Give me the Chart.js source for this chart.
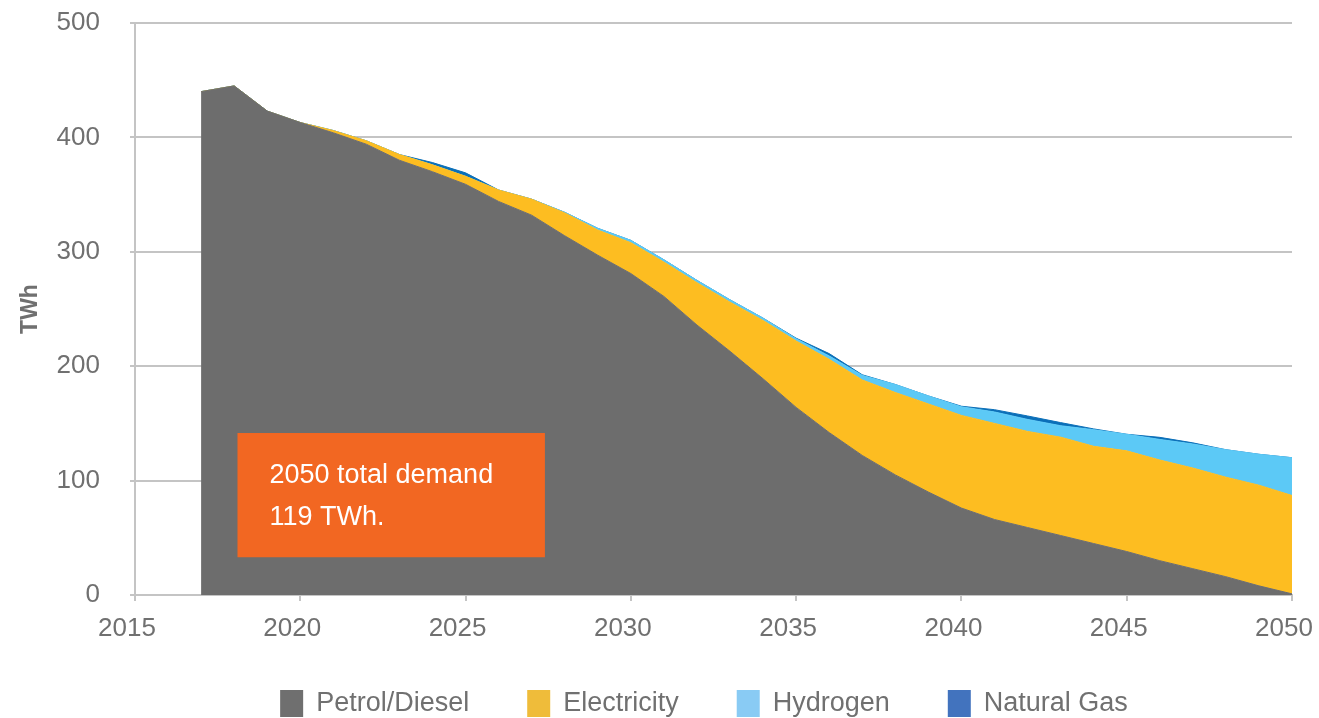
<!DOCTYPE html>
<html>
<head>
<meta charset="utf-8">
<script src="https://cdn.jsdelivr.net/npm/chart.js@4/dist/chart.umd.min.js"></script>
<style>
html,body{margin:0;padding:0;background:#ffffff;}
#wrap{width:1319px;height:718px;position:relative;}
</style>
</head>
<body>
<div id="wrap"><canvas id="c" width="1319" height="718"></canvas></div>
<script>
// ---- data ----
const years = [2017,2018,2019,2020,2021,2022,2023,2024,2025,2026,2027,2028,2029,2030,2031,2032,2033,2034,2035,2036,2037,2038,2039,2040,2041,2042,2043,2044,2045,2046,2047,2048,2049,2050];
const petrolDiesel = [440,445,423,413,404,394,380,370,359,344,332,314,297,281,261,236,213,189,164,142,122,105,90,76,66,59,52,45,38,30,23,16,8,1];
const electricity  = [0,0,0,0,2,3,5,6,7,10,14,20,22,27,30,37,43,51,58,64,66,72,77,81,84,84,86,85,88,88,88,87,88,86];
const hydrogen     = [0,0,0,0,0,0,0,0,0,0,0,0.5,1.5,2,2,2,2,2,2,3,4,7,7,7.5,10,10.5,10,14.5,14.5,18,21,24,27,33];
const naturalGas   = [0,0,0,0,0,0,0,2,3,0,0,0,0,0,0,0,0,0,0.5,2,0.5,0,0,0.5,2,3,2.7,0.7,0,1.8,1,0,0,0];
const seriesNames  = ['Petrol/Diesel','Electricity','Hydrogen','Natural Gas'];
const xTicks = [2015,2020,2025,2030,2035,2040,2045,2050];
const yTicks = [0,100,200,300,400,500];
const yTitle = 'TWh';
const annotationLines = ['2050 total demand','119 TWh.'];
const annotationBox = {x0: 2018.1, x1: 2027.4, y0: 33, y1: 141.6};

// ---- styles ----
const areaColors   = ['#6d6d6d','#fdbd21','#5cc9f6','#0b6fb8'];
const legendColors = ['#6f6f6f','#efbc3a','#89cbf4','#4273be'];
const FONT = '"Liberation Sans", Arial, Helvetica, sans-serif';
const TEXT = '#707070';
const GRID = '#c4c4c4';

const seriesValues = [petrolDiesel, electricity, hydrogen, naturalGas];
const datasets = seriesValues.map((arr, i) => ({
  label: seriesNames[i],
  data: years.map((yr, k) => ({x: yr, y: arr[k]})),
  backgroundColor: areaColors[i],
  borderColor: areaColors[i],
  borderWidth: 1,
  pointRadius: 0,
  pointHoverRadius: 0,
  tension: 0,
  fill: i === 0 ? 'origin' : '-1'
}));

const annotationPlugin = {
  id: 'annot',
  afterDatasetsDraw(chart) {
    const {ctx, scales: {x, y}} = chart;
    const l = x.getPixelForValue(annotationBox.x0), r = x.getPixelForValue(annotationBox.x1);
    const t = y.getPixelForValue(annotationBox.y1), b = y.getPixelForValue(annotationBox.y0);
    ctx.save();
    ctx.fillStyle = '#f26722';
    ctx.fillRect(l, t, r - l, b - t);
    ctx.fillStyle = '#ffffff';
    ctx.font = '27px ' + FONT;
    ctx.textBaseline = 'middle';
    ctx.textAlign = 'left';
    annotationLines.forEach((s, i) => ctx.fillText(s, l + 32, t + 43 + i * 42));
    ctx.restore();
  }
};

// x tick labels: drawn slightly left of their tick marks, as in the original
const xLabelPlugin = {
  id: 'xLabels',
  afterDraw(chart) {
    const {ctx, scales: {x}} = chart;
    ctx.save();
    ctx.font = '26px ' + FONT;
    ctx.fillStyle = TEXT;
    ctx.textBaseline = 'middle';
    ctx.textAlign = 'center';
    xTicks.forEach(v => ctx.fillText(String(v), x.getPixelForValue(v) - 8, x.top + 34));
    ctx.restore();
  }
};

const legendPlugin = {
  id: 'customLegend',
  afterDraw(chart) {
    const ctx = chart.ctx;
    ctx.save();
    ctx.font = '27px ' + FONT;
    ctx.textBaseline = 'middle';
    ctx.textAlign = 'left';
    const box = 23, gapText = 13, gapItem = 58, cy = 704, center = 704;
    const widths = seriesNames.map(s => ctx.measureText(s).width);
    const total = widths.reduce((a, w) => a + box + gapText + w, 0) + gapItem * (seriesNames.length - 1);
    let xPos = center - total / 2;
    seriesNames.forEach((s, i) => {
      ctx.fillStyle = legendColors[i];
      ctx.fillRect(xPos, cy - 14, box, 27);
      ctx.fillStyle = TEXT;
      ctx.fillText(s, xPos + box + gapText, cy);
      xPos += box + gapText + widths[i] + gapItem;
    });
    ctx.restore();
  }
};

function noPad(s) { s.paddingTop = 0; s.paddingBottom = 0; s.paddingLeft = 0; s.paddingRight = 0; }

new Chart(document.getElementById('c'), {
  type: 'line',
  data: {datasets},
  options: {
    responsive: false,
    devicePixelRatio: 1,
    animation: false,
    layout: {padding: {top: 23, right: 27, left: 0, bottom: 0}},
    plugins: {legend: {display: false}, tooltip: {enabled: false}},
    elements: {line: {borderJoinStyle: 'round'}},
    scales: {
      x: {
        type: 'linear', min: 2015, max: 2050,
        afterBuildTicks: s => { s.ticks = xTicks.map(v => ({value: v})); },
        afterFit: s => { s.height = 123; noPad(s); },
        ticks: {display: false, autoSkip: false},
        grid: {drawOnChartArea: false, drawTicks: true, tickLength: 6, color: GRID, lineWidth: 2},
        border: {color: GRID, width: 2}
      },
      y: {
        stacked: true, min: 0, max: 500,
        afterBuildTicks: s => { s.ticks = yTicks.map(v => ({value: v})); },
        afterFit: s => { s.width = 135; noPad(s); },
        ticks: {font: {size: 26, family: FONT}, color: TEXT, padding: 30, callback: v => String(v)},
        grid: {color: GRID, lineWidth: 2, drawTicks: true, tickLength: 5},
        border: {color: GRID, width: 2},
        title: {display: true, text: yTitle, color: TEXT, padding: 0,
                font: {size: 23, weight: 'bold', family: FONT, lineHeight: 2.7}}
      }
    }
  },
  plugins: [annotationPlugin, xLabelPlugin, legendPlugin]
});
</script>
</body>
</html>
